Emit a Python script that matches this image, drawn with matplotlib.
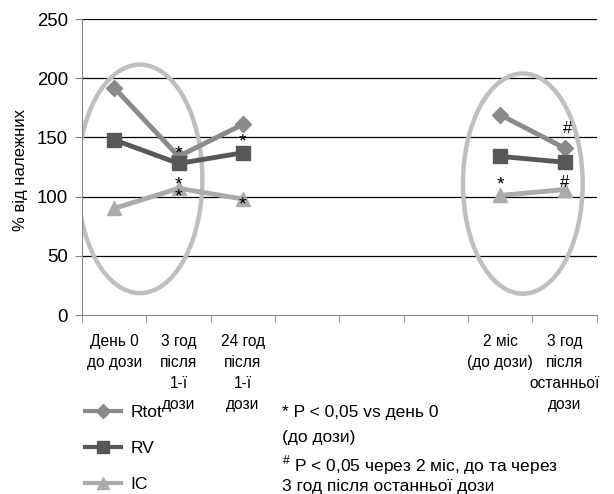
import matplotlib
matplotlib.use("Agg")
import matplotlib.pyplot as plt
from matplotlib.patches import Ellipse
from matplotlib.lines import Line2D

plt.rcParams['font.family'] = ['Liberation Sans', 'DejaVu Sans']
plt.rcParams['mathtext.fontset'] = 'custom'
plt.rcParams['mathtext.rm'] = 'Liberation Sans'

categories = ["День 0\nдо дози", "3 год\nпісля\n1-ї\nдози", "24 год\nпісля\n1-ї\nдози",
              "", "", "", "2 міс\n(до дози)", "3 год\nпісля\nостанньої\nдози"]
group1_x = [0, 1, 2]
group2_x = [6, 7]
rtot_1 = [192, 134, 161]
rtot_2 = [169, 141]
rv_1 = [148, 128, 137]
rv_2 = [134, 129]
ic_1 = [90, 107, 98]
ic_2 = [101, 106]
yticks = [0, 50, 100, 150, 200, 250]

c_rtot = '#8a8a8a'
c_rv = '#585858'
c_ic = '#ababab'

fig = plt.figure(figsize=(6.14, 4.94), dpi=100)
ax = fig.add_axes([0.1336, 0.3623, 0.8384, 0.5992])
ax.set_xlim(-0.5, 7.5)
ax.set_ylim(0, 250)

for y in yticks[1:]:
    ax.axhline(y, color='black', lw=0.9, zorder=1)

for xs, r, v, i in [(group1_x, rtot_1, rv_1, ic_1), (group2_x, rtot_2, rv_2, ic_2)]:
    ax.plot(xs, r, color=c_rtot, marker='D', ms=8, lw=3.5, zorder=3)
    ax.plot(xs, v, color=c_rv, marker='s', ms=10, lw=3.5, zorder=3)
    ax.plot(xs, i, color=c_ic, marker='^', ms=10, lw=3.5, zorder=3)

ax.add_patch(Ellipse((0.40, 115), 1.94, 193, fill=False, edgecolor='#bfbfbf', lw=3.2, zorder=2))
ax.add_patch(Ellipse((6.35, 111), 1.86, 186, fill=False, edgecolor='#bfbfbf', lw=3.2, zorder=2))

ann = [(1, 136, '*'), (2, 146, '*'), (2, 93, '*'), (6, 110, '*')]
for x, y, s in ann:
    ax.text(x, y, s, ha='center', va='center', fontsize=14, zorder=4)
ax.text(1, 104.5, '*\n*', ha='center', va='center', fontsize=14, linespacing=0.62, zorder=4)
for x, y, s in [(7.05, 151, '#'), (7.0, 106, '#')]:
    ax.text(x, y, s, ha='center', va='bottom', fontsize=12, zorder=4)

ax.set_yticks(yticks)
ax.tick_params(axis='y', labelsize=13.4, length=5, color='#888888', pad=5)
ax.set_xticks(range(8))
ax.set_xticklabels(categories, fontsize=11.2, linespacing=1.5)
ax.tick_params(axis='x', length=0, pad=14)
ax.set_xticks([i + 0.5 for i in range(-1, 8)], minor=True)
ax.tick_params(axis='x', which='minor', length=5, color='#888888')
for s in ['top', 'right']:
    ax.spines[s].set_visible(False)
for s in ['left', 'bottom']:
    ax.spines[s].set_color('#888888')

ax.set_ylabel('% від належних', fontsize=12)
ax.yaxis.set_label_coords(-0.105, 0.49)

handles = [Line2D([], [], color=c_rtot, marker='D', ms=7, lw=3),
           Line2D([], [], color=c_rv, marker='s', ms=9, lw=3),
           Line2D([], [], color=c_ic, marker='^', ms=9, lw=3)]
fig.legend(handles, ['Rtot', 'RV', 'IC'], loc='upper left', bbox_to_anchor=(0.118, 0.205),
           frameon=False, fontsize=12.5, handlelength=2.1, labelspacing=1.2, handletextpad=0.55,
           borderpad=0.2)

fig.text(282/614, 1 - 412/494, '* P < 0,05 vs день 0', fontsize=12.5, va='center')
fig.text(282/614, 1 - 437/494, '(до дози)', fontsize=12.5, va='center')
fig.text(282/614, 1 - 465/494, r'$^{\#}$ P < 0,05 через 2 міс, до та через', fontsize=12.5, va='center')
fig.text(282/614, 1 - 486/494, '3 год після останньої дози', fontsize=12.5, va='center')

fig.savefig('out.png', dpi=100)
